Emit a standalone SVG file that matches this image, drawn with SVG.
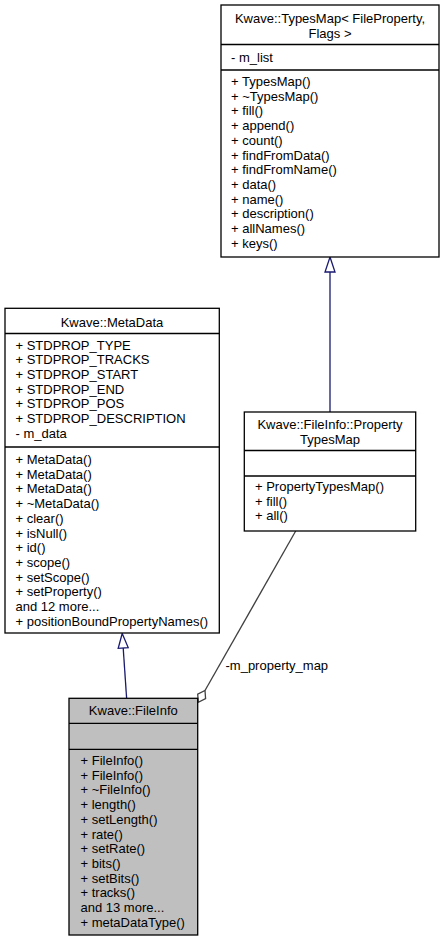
<svg xmlns="http://www.w3.org/2000/svg" width="444" height="941" viewBox="0 0 444 941">
<style>
text{font-family:"Liberation Sans",Arial,Helvetica,sans-serif;font-size:13px;fill:#000}
.c{text-anchor:middle}
.box{fill:#fff;stroke:#000;stroke-width:1.3}
.cur{fill:#bfbfbf;stroke:#000;stroke-width:1.3}
.sep{stroke:#000;stroke-width:1.3}
.inh{fill:none;stroke:#191970;stroke-width:1.3}
.inhh{fill:#fff;stroke:#191970;stroke-width:1.3}
.agg{fill:none;stroke:#404040;stroke-width:1.3}
.aggh{fill:#fff;stroke:#404040;stroke-width:1.3}
</style>
<rect width="444" height="941" fill="#fff"/>
<g id="connectors">
<line class="inh" x1="330" y1="272" x2="330" y2="412"/>
<polygon class="inhh" points="330,257 335,272 325,272"/>
<line class="inh" x1="123.2" y1="648" x2="126.6" y2="698"/>
<polygon class="inhh" points="122.2,633.5 128.2,647.6 118.2,648.4"/>
<line class="agg" x1="295.7" y1="531" x2="205" y2="690.5"/>
<polygon class="aggh" points="205,690.5 205.6,698.6 198.3,702.3 197.7,694.2"/>
<text x="225.5" y="669.5">-m_property_map</text>
</g>
<g id="typesmap">
<rect class="box" x="221" y="5" width="218" height="252"/>
<line class="sep" x1="221" y1="44.5" x2="439" y2="44.5"/>
<line class="sep" x1="221" y1="70" x2="439" y2="70"/>
<text class="c" x="330" y="23">Kwave::TypesMap&lt; FileProperty,</text>
<text class="c" x="330" y="37.5">Flags &gt;</text>
<text x="231" y="61.5">- m_list</text>
<text x="231" y="86">+ TypesMap()</text>
<text x="231" y="100.7">+ ~TypesMap()</text>
<text x="231" y="115.4">+ fill()</text>
<text x="231" y="130.1">+ append()</text>
<text x="231" y="144.8">+ count()</text>
<text x="231" y="159.5">+ findFromData()</text>
<text x="231" y="174.2">+ findFromName()</text>
<text x="231" y="188.9">+ data()</text>
<text x="231" y="203.6">+ name()</text>
<text x="231" y="218.3">+ description()</text>
<text x="231" y="233">+ allNames()</text>
<text x="231" y="247.7">+ keys()</text>
</g>
<g id="metadata">
<rect class="box" x="5" y="308.3" width="214.3" height="324.7"/>
<line class="sep" x1="5" y1="333.5" x2="219.3" y2="333.5"/>
<line class="sep" x1="5" y1="447" x2="219.3" y2="447"/>
<text class="c" x="112" y="326.5">Kwave::MetaData</text>
<text x="15.5" y="349.5">+ STDPROP_TYPE</text>
<text x="15.5" y="364.2">+ STDPROP_TRACKS</text>
<text x="15.5" y="378.9">+ STDPROP_START</text>
<text x="15.5" y="393.6">+ STDPROP_END</text>
<text x="15.5" y="408.3">+ STDPROP_POS</text>
<text x="15.5" y="423">+ STDPROP_DESCRIPTION</text>
<text x="15.5" y="437.7">- m_data</text>
<text x="15.5" y="464">+ MetaData()</text>
<text x="15.5" y="478.7">+ MetaData()</text>
<text x="15.5" y="493.4">+ MetaData()</text>
<text x="15.5" y="508.1">+ ~MetaData()</text>
<text x="15.5" y="522.8">+ clear()</text>
<text x="15.5" y="537.5">+ isNull()</text>
<text x="15.5" y="552.2">+ id()</text>
<text x="15.5" y="566.9">+ scope()</text>
<text x="15.5" y="581.6">+ setScope()</text>
<text x="15.5" y="596.3">+ setProperty()</text>
<text x="15.5" y="611">and 12 more...</text>
<text x="15.5" y="625.7">+ positionBoundPropertyNames()</text>
</g>
<g id="propertytypesmap">
<rect class="box" x="244.3" y="412" width="171.4" height="119"/>
<line class="sep" x1="244.3" y1="450.5" x2="415.7" y2="450.5"/>
<line class="sep" x1="244.3" y1="476" x2="415.7" y2="476"/>
<text class="c" x="330" y="429">Kwave::FileInfo::Property</text>
<text class="c" x="330" y="443.5">TypesMap</text>
<text x="255" y="491">+ PropertyTypesMap()</text>
<text x="255" y="505.5">+ fill()</text>
<text x="255" y="520">+ all()</text>
</g>
<g id="fileinfo">
<rect class="cur" x="69" y="698.3" width="128.7" height="236.7"/>
<line class="sep" x1="69" y1="723.3" x2="197.7" y2="723.3"/>
<line class="sep" x1="69" y1="749.3" x2="197.7" y2="749.3"/>
<text class="c" x="133.3" y="715">Kwave::FileInfo</text>
<text x="80.5" y="765">+ FileInfo()</text>
<text x="80.5" y="779.7">+ FileInfo()</text>
<text x="80.5" y="794.4">+ ~FileInfo()</text>
<text x="80.5" y="809.1">+ length()</text>
<text x="80.5" y="823.8">+ setLength()</text>
<text x="80.5" y="838.5">+ rate()</text>
<text x="80.5" y="853.2">+ setRate()</text>
<text x="80.5" y="867.9">+ bits()</text>
<text x="80.5" y="882.6">+ setBits()</text>
<text x="80.5" y="897.3">+ tracks()</text>
<text x="80.5" y="912">and 13 more...</text>
<text x="80.5" y="926.7">+ metaDataType()</text>
</g>
</svg>
